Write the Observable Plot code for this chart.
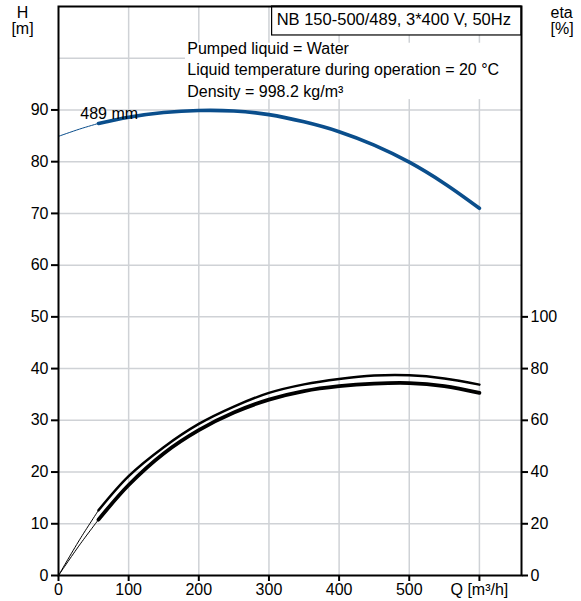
<!DOCTYPE html>
<html><head><meta charset="utf-8">
<script src="https://cdn.jsdelivr.net/npm/d3@7"></script>
<script src="https://cdn.jsdelivr.net/npm/@observablehq/plot@0.6"></script>
<style>
body{margin:0;background:#fff}
#chart svg{display:block}
</style>
</head><body><div id="chart"></div>
<script>
// Flow rate Q [m³/h]
const Q = [0, 30, 57, 100, 150, 200, 250, 300, 350, 400, 450, 500, 550, 600];
// Head H [m]
const H = [84.9, 86.3, 87.4, 88.6, 89.5, 89.9, 89.8, 89.1, 87.7, 85.8, 83.2, 79.9, 75.8, 71.0];
// Efficiency eta [%] (two curves)
const etaUpper = [0, 13.8, 25.2, 38.4, 49.6, 58.6, 65.3, 70.6, 73.9, 76.0, 77.3, 77.4, 76.2, 73.8];
const etaLower = [0, 11.8, 21.6, 35.0, 47.2, 56.2, 63.0, 68.0, 71.3, 73.2, 74.2, 74.4, 73.2, 70.6];
const thinEnd = 57;

const xTicks = [0, 100, 200, 300, 400, 500, 600];
const xTickLabels = ["0", "100", "200", "300", "400", "500", "Q [m³/h]"];
const hTicks = [0, 10, 20, 30, 40, 50, 60, 70, 80, 90];
const etaTicks = [0, 20, 40, 60, 80, 100];
const gridXValues = [100, 200, 300, 400, 500, 600];
const gridYValues = [10, 20, 30, 40, 50, 60, 70, 80, 90, 100];

const titleText = "NB 150-500/489, 3*400 V, 50Hz";
const infoLines = ["Pumped liquid = Water", "Liquid temperature during operation = 20 °C", "Density = 998.2 kg/m³"];
const curveLabel = "489 mm";
const leftAxisTitle = "H\n[m]";
const rightAxisTitle = "eta\n[%]";

const hData = Q.map((q, i) => ({q, v: H[i]}));
const euData = Q.map((q, i) => ({q, v: etaUpper[i] / 2}));
const elData = Q.map((q, i) => ({q, v: etaLower[i] / 2}));
const thin = arr => arr.filter(d => d.q <= thinEnd);
const thick = arr => arr.filter(d => d.q >= thinEnd);

const BLUE = "#0a4e8c";
const FONT = "Arial, 'Liberation Sans', sans-serif";
const FS = 16;

const chart = Plot.plot({
  width: 581,
  height: 601,
  marginLeft: 58,
  marginRight: 60,
  marginTop: 6,
  marginBottom: 26,
  style: {fontFamily: FONT, fontSize: FS + "px", color: "#000", background: "#fff"},
  x: {domain: [0, 660]},
  y: {domain: [0, 110]},
  marks: [
    Plot.gridX(gridXValues, {stroke: "#cfd2d6", strokeOpacity: 1, strokeWidth: 1.5}),
    Plot.gridY(gridYValues, {stroke: "#cfd2d6", strokeOpacity: 1, strokeWidth: 1.5}),
    Plot.rect([0], {x1: 181, x2: 660, y1: 92, y2: 102.9, fill: "white"}),
    Plot.rect([0], {x1: 304.5, x2: 660, y1: 104.4, y2: 110, fill: "white", stroke: "black", strokeWidth: 1.2}),
    Plot.text([titleText], {x: 311, y: 107.4, text: d => d, textAnchor: "start", fontSize: 16.5}),
    Plot.text(infoLines, {x: 183.5, y: (d, i) => 101.9 - i * 4.17, text: d => d, textAnchor: "start", fontSize: FS}),
    // Head curve
    Plot.line(thin(hData), {x: "q", y: "v", stroke: BLUE, strokeWidth: 1, curve: "catmull-rom"}),
    Plot.line(thick(hData), {x: "q", y: "v", stroke: BLUE, strokeWidth: 3.6, curve: "catmull-rom"}),
    // Efficiency curves
    Plot.line(thin(euData), {x: "q", y: "v", stroke: "black", strokeWidth: 1, curve: "catmull-rom"}),
    Plot.line(thick(euData), {x: "q", y: "v", stroke: "black", strokeWidth: 2.5, curve: "catmull-rom"}),
    Plot.line(thin(elData), {x: "q", y: "v", stroke: "black", strokeWidth: 1, curve: "catmull-rom"}),
    Plot.line(thick(elData), {x: "q", y: "v", stroke: "black", strokeWidth: 3.8, curve: "catmull-rom"}),
    Plot.text([curveLabel], {x: 31, y: 89.2, text: d => d, textAnchor: "start", fontSize: FS}),
    // Axes
    Plot.axisX({ticks: xTicks, tickFormat: (d, i) => xTickLabels[i], tickSize: 6, tickPadding: 2, strokeWidth: 2, label: null, fontSize: FS}),
    Plot.axisY({anchor: "left", ticks: hTicks, tickSize: 7, tickPadding: 3, strokeWidth: 2, label: null, fontSize: FS}),
    Plot.axisY({anchor: "right", ticks: etaTicks.map(e => e / 2), tickFormat: d => String(d * 2), tickSize: 6, tickPadding: 3, strokeWidth: 2, label: null, fontSize: FS}),
    Plot.frame({stroke: "black", strokeWidth: 2}),
    Plot.text([leftAxisTitle], {frameAnchor: "top-left", dx: -36, dy: 0, text: d => d, lineHeight: 1.0, fontSize: FS, textAnchor: "middle"}),
    Plot.text([rightAxisTitle], {frameAnchor: "top-right", dx: 29, dy: 0, text: d => d, lineHeight: 1.0, fontSize: FS, textAnchor: "start"})
  ]
});
document.getElementById("chart").appendChild(chart);
</script>
</body></html>
